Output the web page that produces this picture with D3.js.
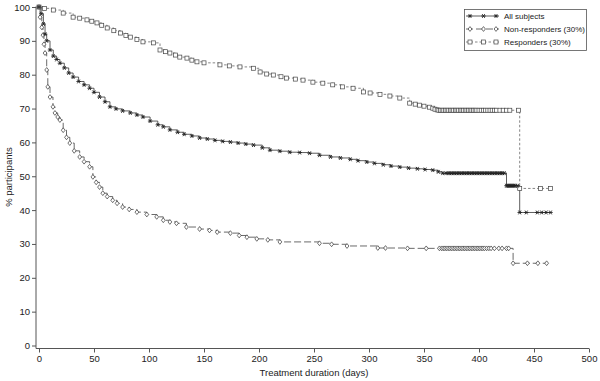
<!DOCTYPE html>
<html><head><meta charset="utf-8">
<script src="https://cdn.jsdelivr.net/npm/d3@7"></script>
<style>body{margin:0;background:#fff}svg{display:block;font-family:"Liberation Sans",Arial,sans-serif}</style>
</head><body><svg id="c" width="600" height="381"></svg>
<script>
const xTicks=[0,50,100,150,200,250,300,350,400,450,500];
const yTicks=[0,10,20,30,40,50,60,70,80,90,100];
const seriesNames=["All subjects","Non-responders (30%)","Responders (30%)"];

const allDays=[0,2,4,5.5,7,10,13,16,19,23,27,31,36,41,46,50,55,60,64.5,70,76,83,89,94.5,101,108,113,119,126,132,139,146,153,160,167,174,181,188,195,203,210,219,228,237,246,255,265,274,283,290,298,305,313,320,328,336,344,351,358,363,367,370,372,373.5,375,376.5,378,379.5,381,382.5,384,385.5,387,388.5,390,391.5,393,394.5,396,397.5,399,400.5,402,403.5,405,406.5,408,409.5,411,412.5,414,415.5,417,418.5,420,421.5,423,425,426,427,428,429,430,431,432,433,435,437,443,453,457,461,465];
const allPct=[100,98,95,92,90,87.3,85.5,84.5,83.4,82,80.5,79.3,78,77,76,74.8,73.4,72,70.5,69.9,69.3,68.7,68.1,67.5,66.3,65.2,64.6,63.7,63,62.4,61.9,61.3,61,60.6,60.3,60.1,59.8,59.5,59.2,58.4,57.7,57.4,57.1,57,56.8,56.2,55.7,55.4,55,54.6,54.2,53.8,53.4,53,52.7,52.4,52.2,52,51.8,51.3,50.9,50.9,50.9,50.9,50.9,50.9,50.9,50.9,50.9,50.9,50.9,50.9,50.9,50.9,50.9,50.9,50.9,50.9,50.9,50.9,50.9,50.9,50.9,50.9,50.9,50.9,50.9,50.9,50.9,50.9,50.9,50.9,50.9,50.9,50.9,50.9,50.9,47.2,47.2,47.2,47.2,47.2,47.2,47.2,47.2,47.2,47.2,39.3,39.3,39.3,39.3,39.3,39.3];

const nonDays=[0,1,2.5,3.6,4.5,5.5,7,8,10,12.7,14.5,17,19,22,25,28,32,37,41,46,49,52,55,58,62,67,71,76,82,89,98,107,113,119,125,134,146,155,162,174,182,189,198,208,219,255,266,280,308,315,335,352,364,366,367.5,369,370.5,372,373.5,375,376.5,378,379.5,381,382.5,384,385.5,387,388.5,390,391.5,393,394.5,396,397.5,399,400.5,402,403.5,405,407,409,411,414,418,421,425,427,431,444,453.5,461.5];
const nonPct=[100,97,94,91.7,89,86.4,81.4,76.4,73.4,70.5,68.7,67.5,66.6,63.6,61.5,59.8,57.5,55.7,54.3,52.8,49.8,48.2,46.8,45,44,42.9,42,40.9,40.2,39.4,38.7,38,37,36.5,36.1,35,34.4,34,33.5,33.2,32.5,32,31.5,31.2,30.6,30.2,29.9,29.4,28.8,28.8,28.7,28.7,28.7,28.7,28.7,28.7,28.7,28.7,28.7,28.7,28.7,28.7,28.7,28.7,28.7,28.7,28.7,28.7,28.7,28.7,28.7,28.7,28.7,28.7,28.7,28.7,28.7,28.7,28.7,28.7,28.7,28.7,28.7,28.7,28.7,28.7,28.7,28.7,24.3,24.3,24.3,24.3,24.3];

const resDays=[0,5,13,22,31,37,43.6,48,52.7,57,62,68,74,79,83,89,94.5,104,110,115,119,124,128,134.5,139,143.6,150,164.5,173,182.7,195,201,207,213,220,225,233,240,249,258,267,276,285.5,295,301,310,319,328,337,342,346,350,355,358,360,362,363.5,365,366.5,368,369.5,371,372.5,374,375.5,377,378.5,380,381.5,383,384.5,386,387.5,389,390.5,392,393.5,395,396.5,398,400,402,404,406,408,410,412,414,416,419,422,425,428,436,437,456,465];
const resPct=[100,99.6,99.1,98.2,97,96.7,96.2,95.8,95.3,94.6,93.8,93,92.3,91.6,91.1,90.4,89.7,89.4,87.3,86.8,86.4,85.8,85.2,84.9,84.3,83.8,83.5,82.9,82.6,82.3,81.9,80.8,80.2,79.9,79.4,79,78.7,78.4,77.8,77.5,77,76.4,76,74.9,74.6,74.2,73.7,73.1,71.6,71.3,71,70.7,70.4,70.1,69.8,69.6,69.5,69.5,69.5,69.5,69.5,69.5,69.5,69.5,69.5,69.5,69.5,69.5,69.5,69.5,69.5,69.5,69.5,69.5,69.5,69.5,69.5,69.5,69.5,69.5,69.5,69.5,69.5,69.5,69.5,69.5,69.5,69.5,69.5,69.5,69.5,69.5,69.5,69.5,46.4,46.4,46.4];

const svg=d3.select("#c");
const x=d3.scaleLinear().domain([0,500]).range([39,589]);
const y=d3.scaleLinear().domain([0,100]).range([345.5,7]);
const axisCol="#555";

const gx=svg.append("g").attr("transform","translate(0,348.5)")
  .call(d3.axisBottom(x).tickValues(xTicks).tickSize(4).tickSizeOuter(0).tickPadding(3));
gx.select(".domain").remove();
svg.append("line").attr("x1",36).attr("x2",589).attr("y1",348.5).attr("y2",348.5).attr("stroke",axisCol);
const gy=svg.append("g").attr("transform","translate(36,0)")
  .call(d3.axisLeft(y).tickValues(yTicks).tickSize(4).tickSizeOuter(0).tickPadding(2));
gy.select(".domain").remove();
svg.append("line").attr("x1",36).attr("x2",36).attr("y1",6.5).attr("y2",348.5).attr("stroke",axisCol);
svg.selectAll(".tick line").attr("stroke",axisCol);
svg.selectAll(".tick text").attr("font-size",9.5).attr("fill","#222").attr("font-family","Liberation Sans, Arial, sans-serif");

svg.append("text").attr("x",314).attr("y",376).attr("text-anchor","middle").attr("font-size",9.5).attr("fill","#222").text("Treatment duration (days)");
svg.append("text").attr("transform","translate(12,177) rotate(-90)").attr("text-anchor","middle").attr("font-size",9.5).attr("fill","#222").text("% participants");

const line=d3.line().x(d=>x(d[0])).y(d=>y(d[1])).curve(d3.curveStepAfter);
const zip=(a,b)=>a.map((v,i)=>[v,b[i]]);

const styles=[
 {data:zip(allDays,allPct),stroke:"#333",dash:null,sym:"star"},
 {data:zip(nonDays,nonPct),stroke:"#444",dash:"7,3",sym:"diamond"},
 {data:zip(resDays,resPct),stroke:"#666",dash:"2.5,2",sym:"square"}
];

function drawSym(g,sym,cx,cy){
  if(sym==="star"){
    g.append("path").attr("transform",`translate(${cx},${cy})`)
     .attr("d","M-2.2,0H2.2M-1.3,-1.9L1.3,1.9M-1.3,1.9L1.3,-1.9")
     .attr("stroke","#222").attr("stroke-width",0.9).attr("fill","none");
  } else if(sym==="diamond"){
    g.append("path").attr("transform",`translate(${cx},${cy})`)
     .attr("d","M0,-2.4L1.9,0L0,2.4L-1.9,0Z")
     .attr("stroke","#333").attr("stroke-width",0.7).attr("fill","#fff");
  } else {
    g.append("rect").attr("x",cx-2).attr("y",cy-2).attr("width",4).attr("height",4)
     .attr("stroke","#444").attr("stroke-width",0.7).attr("fill","#fff");
  }
}

styles.forEach(s=>{
  svg.append("path").attr("d",line(s.data)).attr("fill","none").attr("stroke",s.stroke)
    .attr("stroke-width",0.8).attr("stroke-dasharray",s.dash);
});
styles.slice().reverse().forEach(s=>{
  const g=svg.append("g");
  s.data.forEach(d=>drawSym(g,s.sym,x(d[0]),y(d[1])));
});

const lg=svg.append("g");
lg.append("rect").attr("x",464.5).attr("y",9.5).attr("width",122).attr("height",41).attr("fill","#fff").attr("stroke","#555").attr("stroke-width",0.8);
const ly=[16,29,42];
styles.forEach((s,i)=>{
  lg.append("line").attr("x1",466).attr("x2",499).attr("y1",ly[i]).attr("y2",ly[i])
    .attr("stroke",s.stroke).attr("stroke-width",0.8).attr("stroke-dasharray",s.dash);
  [470,483.5,496].forEach(px=>drawSym(lg,s.sym,px,ly[i]));
  lg.append("text").attr("x",504).attr("y",ly[i]+3).attr("font-size",8).attr("fill","#222").text(seriesNames[i]);
});
</script></body></html>
